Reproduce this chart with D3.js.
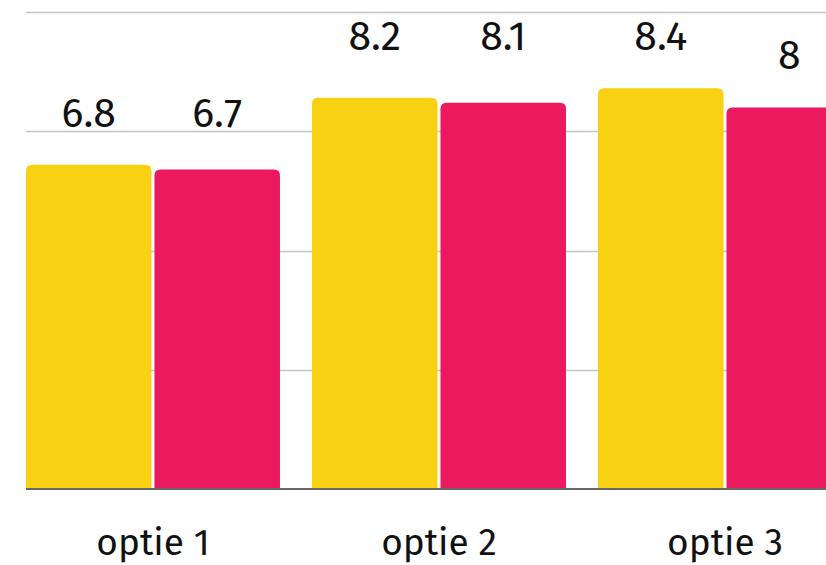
<!DOCTYPE html>
<html>
<head>
<meta charset="utf-8">
<script src="https://cdn.jsdelivr.net/npm/d3@7"></script>
<style>
  html, body { margin: 0; padding: 0; background: #fff; overflow: hidden; }
  svg { display: block; font-family: "Fira Sans", "Open Sans", sans-serif; }
</style>
</head>
<body>
<svg id="chart" width="826" height="565"></svg>
<script>
// data
var categories = ["optie 1", "optie 2", "optie 3"];
var series = ["a", "b"];
var valuesA = [6.8, 8.2, 8.4];
var valuesB = [6.7, 8.1, 8];
var gridTicks = [0, 2.5, 5, 7.5, 10];

var colors = { a: "#F7D112", b: "#EC195F" };

var svg = d3.select("#chart");
var width = 826, height = 565;

// plot runs past the right edge of the window (cropped in the original)
var x0 = d3.scaleBand().domain(categories).range([26, 852]).paddingInner(0.112).paddingOuter(0);
var x1 = d3.scaleBand().domain(series).range([0, x0.bandwidth()]).paddingInner(0.023);
var y = d3.scaleLinear().domain([0, 10]).range([489, 12]);

var rows = categories.map(function(c, i) {
  return { cat: c, bars: [{ s: "a", v: valuesA[i] }, { s: "b", v: valuesB[i] }] };
});

// gridlines
svg.append("g")
  .attr("class", "grid")
  .selectAll("line")
  .data(gridTicks.filter(function(t) { return t > 0; }))
  .enter().append("line")
  .attr("x1", 26).attr("x2", width)
  .attr("y1", function(d) { return Math.round(y(d)) + 0.5; })
  .attr("y2", function(d) { return Math.round(y(d)) + 0.5; })
  .attr("stroke", "#c4c4c4")
  .attr("stroke-width", 1.5);

function topRounded(x, yTop, w, h, r) {
  return "M" + x + "," + (yTop + h) +
    "V" + (yTop + r) +
    "Q" + x + "," + yTop + " " + (x + r) + "," + yTop +
    "H" + (x + w - r) +
    "Q" + (x + w) + "," + yTop + " " + (x + w) + "," + (yTop + r) +
    "V" + (yTop + h) + "Z";
}

var groups = svg.append("g").selectAll("g")
  .data(rows)
  .enter().append("g")
  .attr("transform", function(d) { return "translate(" + x0(d.cat) + ",0)"; });

groups.selectAll("path")
  .data(function(d) { return d.bars; })
  .enter().append("path")
  .attr("fill", function(d) { return colors[d.s]; })
  .attr("d", function(d) {
    return topRounded(x1(d.s), y(d.v), x1.bandwidth(), y(0) - y(d.v), 6);
  });

// baseline
svg.append("line")
  .attr("x1", 26).attr("x2", width)
  .attr("y1", y(0)).attr("y2", y(0))
  .attr("stroke", "#666")
  .attr("stroke-width", 2);

// value labels: put above bar, snap labels that are close onto one row
var labels = [];
rows.forEach(function(r) {
  r.bars.forEach(function(b) {
    labels.push({ v: b.v, cx: x0(r.cat) + x1(b.s) + x1.bandwidth() / 2, ly: y(b.v) - 38 });
  });
});
var sorted = labels.slice().sort(function(a, b) { return a.ly - b.ly; });
var rowTop = null;
sorted.forEach(function(l) {
  if (rowTop !== null && l.ly - rowTop < 16) l.ly = rowTop;
  else rowTop = l.ly;
});

svg.append("g").selectAll("text")
  .data(labels)
  .enter().append("text")
  .attr("x", function(d) { return d.cx; })
  .attr("y", function(d) { return d.ly; })
  .attr("text-anchor", "middle")
  .attr("font-size", 41)
  .attr("fill", "#111")
  .text(function(d) { return d3.format("")(d.v); });

// category axis labels
svg.append("g").selectAll("text")
  .data(categories)
  .enter().append("text")
  .attr("x", function(d) { return x0(d) + x0.bandwidth() / 2; })
  .attr("y", 555)
  .attr("text-anchor", "middle")
  .attr("font-size", 37)
  .attr("fill", "#111")
  .text(function(d) { return d; });
</script>
</body>
</html>
